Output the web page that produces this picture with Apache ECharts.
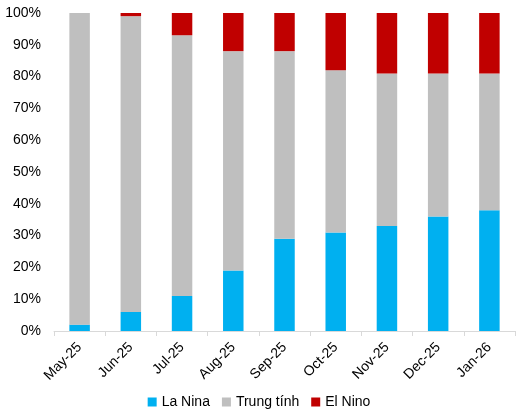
<!DOCTYPE html>
<html><head><meta charset="utf-8">
<script src="https://cdn.jsdelivr.net/npm/echarts@6/dist/echarts.min.js"></script>
<style>html,body{margin:0;padding:0;background:#fff}#c{width:518px;height:418px}</style>
</head><body><div id="c"></div>
<script>
const categories = ['May-25','Jun-25','Jul-25','Aug-25','Sep-25','Oct-25','Nov-25','Dec-25','Jan-26'];
const laNina = [2, 6, 11, 19, 29, 31, 33, 36, 38];
const trungTinh = [98, 93, 82, 69, 59, 51, 48, 45, 43];
const elNino = [0, 1, 7, 12, 12, 18, 19, 19, 19];
const yTicks = [0, 10, 20, 30, 40, 50, 60, 70, 80, 90, 100];

const chart = echarts.init(document.getElementById('c'));
const font = 'Liberation Sans, Arial, sans-serif';
chart.setOption({
  animation: false,
  textStyle: { fontFamily: font },
  grid: { left: 54, right: 3, top: 13, bottom: 87 },
  legend: {
    bottom: 4, left: 'center', itemWidth: 9, itemHeight: 9, itemGap: 12,
    icon: 'rect',
    textStyle: { fontFamily: font, fontSize: 14, color: '#000' },
    data: ['La Nina', 'Trung tính', 'El Nino']
  },
  xAxis: {
    type: 'category', data: categories,
    axisLine: { lineStyle: { color: '#d9d9d9' } },
    axisTick: { show: true, alignWithLabel: false, lineStyle: { color: '#d9d9d9' }, length: 5 },
    axisLabel: { rotate: 45, fontSize: 14, color: '#000', fontFamily: font, margin: 14 }
  },
  yAxis: {
    type: 'value', min: 0, max: 100, interval: 10,
    splitLine: { show: false },
    axisLine: { show: false }, axisTick: { show: false },
    axisLabel: { fontSize: 14, color: '#000', fontFamily: font, formatter: v => v + '%', margin: 13 }
  },
  series: [
    { name: 'La Nina', type: 'bar', stack: 't', data: laNina, barWidth: '40%', itemStyle: { color: '#00b0f0' } },
    { name: 'Trung tính', type: 'bar', stack: 't', data: trungTinh, barWidth: '40%', itemStyle: { color: '#bfbfbf' } },
    { name: 'El Nino', type: 'bar', stack: 't', data: elNino, barWidth: '40%', itemStyle: { color: '#c00000' } }
  ]
});
</script></body></html>
